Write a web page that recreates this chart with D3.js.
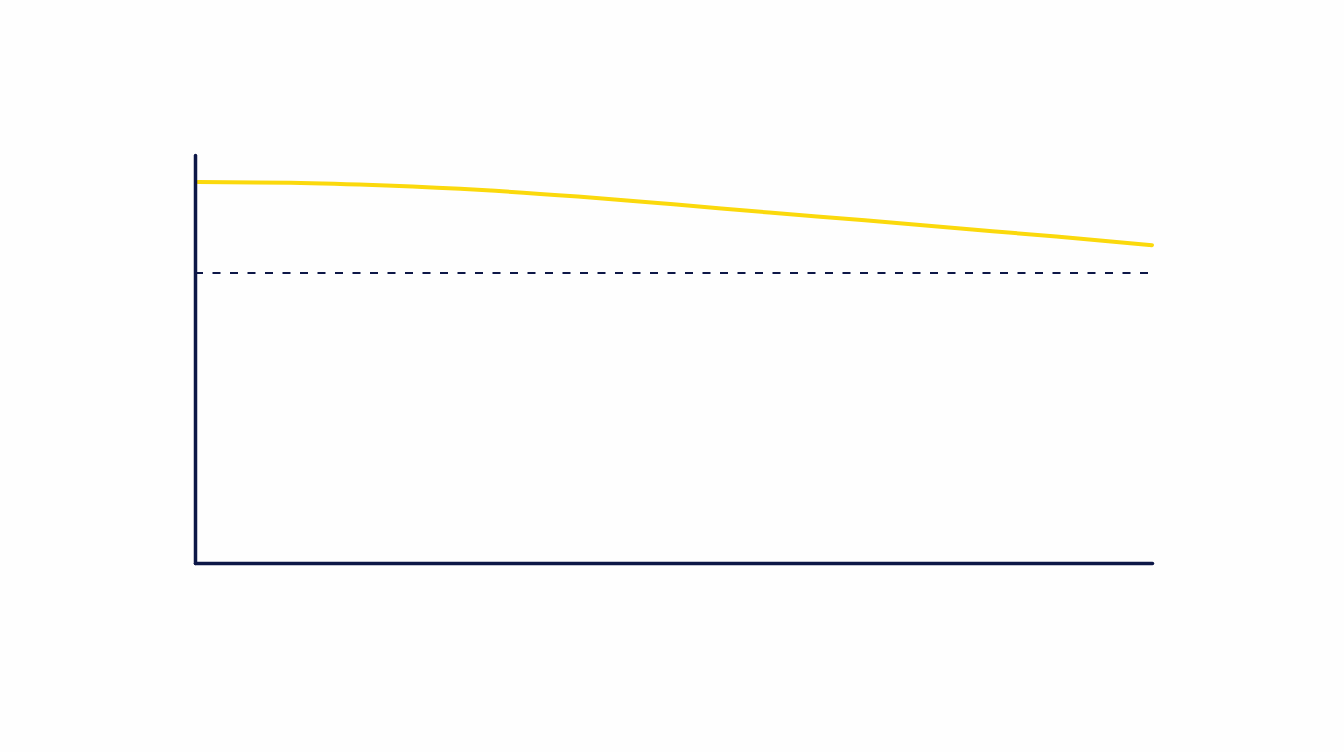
<!DOCTYPE html>
<html>
<head>
<meta charset="utf-8">
<script src="https://cdn.jsdelivr.net/npm/d3@7"></script>
<style>
	html, body { margin: 0; padding: 0; background: #fefefe; }
</style>
</head>
<body>
<div id="chart"></div>
<script>
// series values (x as percent of axis span, y on a 0-100 scale)
const xValues = [0.3, 10, 20, 30, 40, 50, 60, 70, 80, 90, 100];
const yValues = [93.4, 93.2, 92.5, 91.4, 89.8, 87.9, 85.9, 84.0, 82.0, 80.0, 77.9];
// dashed reference level
const refLevel = [71.1];

const width = 1344;
const height = 752;
const margin = {
	top: 155, right: 192, bottom: 189, left: 195
};

/* eslint-disable indent */
const svg = d3.select("#chart")
	.append("svg")
		.attr("width", width)
		.attr("height", height);

const x = d3.scaleLinear()
	.domain([0, 100])
	.range([margin.left, width - margin.right]);
const y = d3.scaleLinear()
	.domain([0, 100])
	.range([height - margin.bottom, margin.top]);

const navy = "#0d1747";

// dashed reference line
svg.selectAll("line.ref")
	.data(refLevel)
	.join("line")
		.attr("class", "ref")
		.attr("x1", x(0))
		.attr("x2", x(100))
		.attr("y1", d => y(d))
		.attr("y2", d => y(d))
		.attr("stroke", navy)
		.attr("stroke-width", 2)
		.attr("stroke-dasharray", "8,9.5");

// yellow series
const points = xValues.map((v, i) => [v, yValues[i]]);
svg.append("path")
	.datum(points)
		.attr("fill", "none")
		.attr("stroke", "#fbd90c")
		.attr("stroke-width", 4)
		.attr("stroke-linecap", "round")
		.attr("d", d3.line()
			.x(d => x(d[0]))
			.y(d => y(d[1]))
			.curve(d3.curveMonotoneX));

// axes (plain lines, no ticks)
svg.append("g")
		.attr("transform", `translate(0, ${y(0)})`)
		.call(d3.axisBottom(x).tickValues([]).tickSizeOuter(0))
	.select(".domain")
		.attr("stroke", navy)
		.attr("stroke-width", 3.5)
		.attr("stroke-linecap", "round");
svg.append("g")
		.attr("transform", `translate(${x(0)}, 0)`)
		.call(d3.axisLeft(y).tickValues([]).tickSizeOuter(0))
	.select(".domain")
		.attr("stroke", navy)
		.attr("stroke-width", 3.5)
		.attr("stroke-linecap", "round");
/* eslint-enable */
</script>
</body>
</html>
